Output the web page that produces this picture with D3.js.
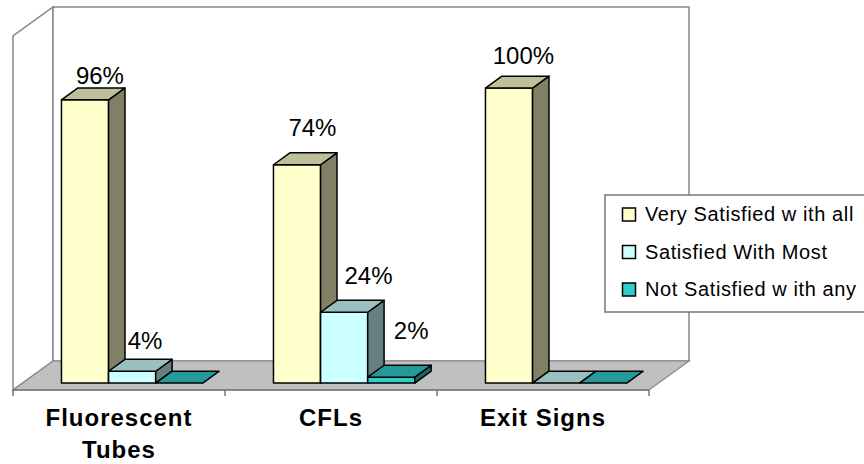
<!DOCTYPE html>
<html>
<head>
<meta charset="utf-8">
<script src="https://cdn.jsdelivr.net/npm/d3@7"></script>
<style>
  html, body { margin: 0; padding: 0; background: #fff; }
  svg { display: block; font-family: "Liberation Sans", Arial, sans-serif; }
</style>
</head>
<body>
<svg id="chart" width="864" height="464"></svg>
<script>
// Satisfaction by lighting type (percent of respondents)
const categories = ["Fluorescent Tubes", "CFLs", "Exit Signs"];
const categoryLines = [["Fluorescent", "Tubes"], ["CFLs"], ["Exit Signs"]];
const seriesNames = ["Very Satisfied w ith all", "Satisfied With Most", "Not Satisfied w ith any"];
const verySatisfied = [96, 74, 100];
const satisfiedMost = [4, 24, 0];
const notSatisfied = [0, 2, 0];
const seriesValues = [verySatisfied, satisfiedMost, notSatisfied];
const valueMax = 120;

// Front face colour of each series; top and side faces are shaded from it
const seriesColors = ["#FFFFCC", "#CCFFFF", "#33CCCC"];

// Small per-label placement tweaks [dx, gap above bar top]
const labelNudge = [
  [[-1.5, 4], [-1, 17], [-2, 12]],
  [[-3.5, 10], [8, 16], [0, 12]],
  [[0, 12], [3.5, 26], [0, 12]]
];

const svg = d3.select("#chart");

// Frame of the 3-D plot
const X0 = 13, X1 = 649, FLOOR_Y = 390;
const DEPTH = [40, -29];          // full floor depth offset
const BAR_FRONT = 0.24;           // bar front plane as fraction of depth
const BAR_DEPTH = 0.41;           // bar thickness as fraction of depth
const WALL_H = 354;

const xCat = d3.scaleBand().domain(categories).range([X0, X1]);
const xSer = d3.scaleBand().domain(seriesNames)
  .range([0, xCat.bandwidth()])
  .paddingInner(0).paddingOuter(0.75).align(0.55);
const h = d3.scaleLinear().domain([0, valueMax]).range([0, WALL_H]);

const shade = (c, k) => {
  const r = d3.rgb(c);
  return d3.rgb(r.r * k, r.g * k, r.b * k).formatHex();
};
const pts = a => a.map(p => p.join(",")).join(" ");

const wallStroke = "#888";
const bdx = DEPTH[0], bdy = DEPTH[1];
const backLeft = X0 + bdx, backRight = X1 + bdx, backBase = FLOOR_Y + bdy;
const wallTop = backBase - h(valueMax);

// Side wall
svg.append("polygon")
  .attr("points", pts([[X0, FLOOR_Y], [X0, FLOOR_Y - h(valueMax)], [backLeft, wallTop], [backLeft, backBase]]))
  .attr("fill", "#fff").attr("stroke", wallStroke).attr("stroke-width", 1.5);
// Back wall
svg.append("polygon")
  .attr("points", pts([[backLeft, wallTop], [backRight, wallTop], [backRight, backBase], [backLeft, backBase]]))
  .attr("fill", "#fff").attr("stroke", wallStroke).attr("stroke-width", 1.5);
// Floor
svg.append("polygon")
  .attr("points", pts([[X0, FLOOR_Y], [X1, FLOOR_Y], [backRight, backBase], [backLeft, backBase]]))
  .attr("fill", "#C0C0C0").attr("stroke", wallStroke).attr("stroke-width", 1.2);

// Category axis line and boundary ticks
const axis = svg.append("g").attr("stroke", "#777").attr("stroke-width", 1.5);
axis.append("line").attr("x1", X0).attr("x2", X1).attr("y1", FLOOR_Y).attr("y2", FLOOR_Y);
const tickXs = categories.map(c => xCat(c)).concat([X1]);
axis.selectAll("line.tick").data(tickXs).join("line").attr("class", "tick")
  .attr("x1", d => d).attr("x2", d => d)
  .attr("y1", FLOOR_Y).attr("y2", FLOOR_Y + 6);

// Bars, drawn left to right so each front face overlaps its neighbour's side
const fx = bdx * BAR_FRONT, fy = bdy * BAR_FRONT;
const dx = bdx * BAR_DEPTH, dy = bdy * BAR_DEPTH;
const barBase = FLOOR_Y + fy;

const bars = [];
categories.forEach((cat, ci) => {
  seriesNames.forEach((s, si) => {
    bars.push({ cat, ci, s, si, v: seriesValues[si][ci] });
  });
});

const barG = svg.append("g");
bars.forEach(b => {
  const x = xCat(b.cat) + fx + xSer(b.s);
  const w = xSer.bandwidth();
  const top = barBase - h(b.v);
  const col = seriesColors[b.si];
  const g = barG.append("g").attr("stroke", "#000").attr("stroke-width", 1.5)
    .attr("stroke-linejoin", "round");
  if (b.v > 0) {
    g.append("rect").attr("x", x).attr("y", top).attr("width", w).attr("height", h(b.v))
      .attr("fill", col);
    g.append("polygon")
      .attr("points", pts([[x + w, top], [x + w + dx, top + dy], [x + w + dx, barBase + dy], [x + w, barBase]]))
      .attr("fill", shade(col, 0.5));
  }
  g.append("polygon")
    .attr("points", pts([[x, top], [x + dx, top + dy], [x + w + dx, top + dy], [x + w, top]]))
    .attr("fill", shade(col, 0.75));
  b.cx = x + w / 2 + dx;
  b.ty = top + dy;
});

// Value labels
svg.append("g").selectAll("text").data(bars.filter(b => b.v > 0)).join("text")
  .attr("x", b => b.cx + labelNudge[b.si][b.ci][0])
  .attr("y", b => b.ty - labelNudge[b.si][b.ci][1])
  .attr("text-anchor", "middle")
  .attr("font-size", 24).attr("fill", "#000")
  .text(b => b.v + "%");

// Category labels
const catG = svg.append("g");
categories.forEach((c, i) => {
  const t = catG.append("text")
    .attr("x", xCat(c) + xCat.bandwidth() / 2)
    .attr("y", 426)
    .attr("text-anchor", "middle")
    .attr("font-size", 24).attr("font-weight", "bold")
    .attr("letter-spacing", 1);
  categoryLines[i].forEach((line, li) => {
    t.append("tspan").attr("x", xCat(c) + xCat.bandwidth() / 2)
      .attr("dy", li === 0 ? 0 : 32).text(line);
  });
});

// Legend
const legend = svg.append("g").attr("transform", "translate(605,195)");
legend.append("rect").attr("x", 0).attr("y", 0).attr("width", 275).attr("height", 117)
  .attr("fill", "#fff").attr("stroke", "#777").attr("stroke-width", 1.5);
const rows = legend.selectAll("g.row").data(seriesNames).join("g").attr("class", "row")
  .attr("transform", (d, i) => `translate(0,${26 + i * 37.5})`);
rows.append("rect").attr("x", 17.5).attr("y", -13).attr("width", 13).attr("height", 13)
  .attr("fill", (d, i) => seriesColors[i]).attr("stroke", "#000").attr("stroke-width", 1.5);
rows.append("text").attr("x", 40).attr("y", 0)
  .attr("font-size", 20).attr("letter-spacing", 0.6).attr("fill", "#000")
  .text(d => d);
</script>
</body>
</html>
